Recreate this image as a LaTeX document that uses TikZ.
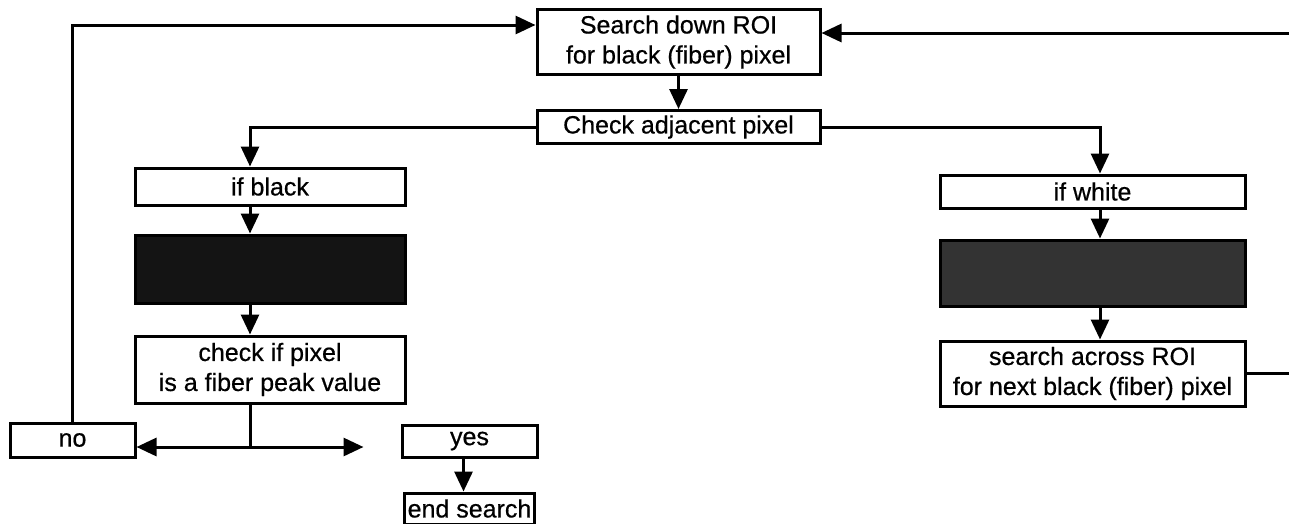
\documentclass[tikz,border=0pt]{standalone}
\usepackage{fontspec}
\setmainfont{Liberation Sans}[FakeBold=0.6]
\usetikzlibrary{arrows.meta, calc, positioning}
\tikzset{
    box/.style={rectangle, draw=black, line width=3pt, align=center, inner sep=0pt,
        font=\fontsize{25pt}{30pt}\selectfont},
    widebox/.style={box, minimum width=283pt},
    leftbox/.style={box, minimum width=270pt},
    rightbox/.style={box, minimum width=305pt},
    darkbox/.style={fill=black!92},
    greybox/.style={fill=black!80},
    arrow/.style={-{Triangle[length=20pt, width=18pt]}, line width=3pt},
    link/.style={line width=3pt},
}

\begin{document}
\begin{tikzpicture}[x=1pt, y=-1pt]
    \useasboundingbox (0,0) rectangle (1289,523);
    \node[widebox, minimum height=65pt] (search) at (678.5,42) {Search down ROI\\for black (fiber) pixel};
    \node[widebox, minimum height=33pt, below=33pt of search] (adj) {Check adjacent pixel};
    \node[leftbox, minimum height=37pt] (ifblack) at (270,186.5) {if black};
    \node[leftbox, darkbox, minimum height=68pt, below=27pt of ifblack] (darkL) {};
    \node[leftbox, minimum height=67pt, below=30pt of darkL] (peak) {check if pixel\\is a fiber peak value};
    \node[box, minimum width=125pt, minimum height=34pt] (no) at (72.5,440) {no};
    \node[box, minimum width=135pt, minimum height=32pt] (yes) at (469.5,441) {yes};
    \node[box, minimum width=130pt, minimum height=31pt, below=33pt of yes] (endsearch) {end search};
    \node[rightbox, minimum height=33pt] (ifwhite) at (1092.5,191.5) {if white};
    \node[rightbox, greybox, minimum height=66pt, below=29pt of ifwhite] (darkR) {};
    \node[rightbox, minimum height=65pt, below=32pt of darkR] (across) {search across ROI\\for next black (fiber) pixel};
    \coordinate (lx) at (250,0);
    \coordinate (rx) at (1100,0);
    \coordinate (split) at (250,447);
    \draw[arrow] (search.south) -- (adj.north);
    \draw[arrow] (adj.west) -| (ifblack.north -| lx);
    \draw[arrow] (ifblack.south -| lx) -- (darkL.north -| lx);
    \draw[arrow] (darkL.south -| lx) -- (peak.north -| lx);
    \draw[link] (peak.south -| lx) -- (split);
    \draw[arrow] (split) -- (no.east |- split);
    \draw[arrow, shorten >=37pt] (split) -- (yes.west |- split);
    \draw[arrow] ([xshift=-6pt]yes.south) -- ([xshift=-6pt]endsearch.north);
    \draw[arrow] (no.north) |- ([yshift=17pt]search.west);
    \draw[arrow] (adj.east) -| (ifwhite.north -| rx);
    \draw[arrow] (ifwhite.south -| rx) -- (darkR.north -| rx);
    \draw[arrow] (darkR.south -| rx) -- (across.north -| rx);
    \draw[arrow] (across.east) -- ++(80,0) |- ([yshift=9pt]search.east);
\end{tikzpicture}
\end{document}
